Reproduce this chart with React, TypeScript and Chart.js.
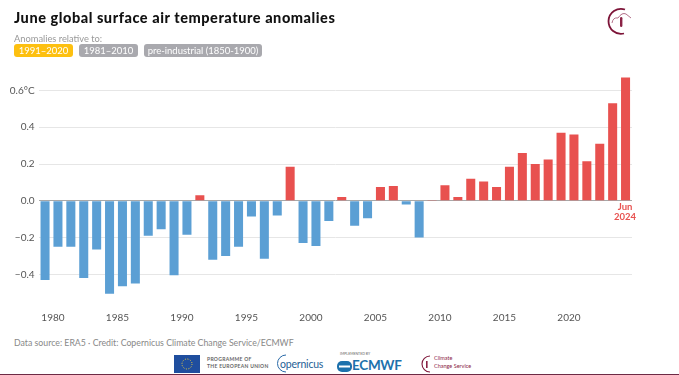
import React, { useEffect, useRef } from "react";
import { Chart, registerables } from "chart.js";

Chart.register(...registerables);

const years = ["1979","1980","1981","1982","1983","1984","1985","1986","1987","1988","1989","1990","1991","1992","1993","1994","1995","1996","1997","1998","1999","2000","2001","2002","2003","2004","2005","2006","2007","2008","2009","2010","2011","2012","2013","2014","2015","2016","2017","2018","2019","2020","2021","2022","2023","2024"];
const anomalies = [-0.43,-0.25,-0.25,-0.42,-0.265,-0.505,-0.465,-0.45,-0.19,-0.155,-0.405,-0.185,0.03,-0.32,-0.3,-0.25,-0.085,-0.315,-0.08,0.185,-0.23,-0.245,-0.11,0.02,-0.135,-0.095,0.075,0.08,-0.02,-0.2,0.005,0.085,0.02,0.12,0.105,0.075,0.185,0.26,0.2,0.225,0.37,0.36,0.215,0.31,0.53,0.67];
const yTicks = [-0.4,-0.2,0,0.2,0.4,0.6];
const baselines = ["1981–2010","pre-industrial (1850-1900)"];
const activeBaseline = "1991–2020";
const FONT = "Lato, 'Noto Sans', sans-serif";

const fmtY = (v: number) => {
  if (Math.abs(v) < 1e-9) return "0.0";
  if (Math.abs(v - 0.6) < 1e-9) return "0.6°C";
  return (v < 0 ? "−" : "") + Math.abs(v).toFixed(1);
};

const lastLabel = {
  id: "lastLabel",
  afterDraw(chart: any) {
    const { ctx, scales } = chart;
    const x = scales.x.getPixelForValue(years.length - 1);
    const y = scales.y.getPixelForValue(0);
    ctx.save();
    ctx.fillStyle = "#e8514f";
    ctx.font = `bold 9.5px ${FONT}`;
    ctx.textAlign = "center";
    ctx.textBaseline = "middle";
    ctx.fillText("Jun", x - 0.5, y + 6.5);
    ctx.fillText("2024", x - 0.5, y + 16.5);
    ctx.restore();
  },
};

const s = (o: React.CSSProperties): React.CSSProperties => ({ position: "absolute", whiteSpace: "nowrap", fontFamily: FONT, ...o });

export default function App() {
  const ref = useRef<HTMLCanvasElement>(null);
  useEffect(() => {
    const chart = new Chart(ref.current!, {
      type: "bar",
      data: {
        labels: years,
        datasets: [{
          data: anomalies,
          backgroundColor: anomalies.map((v) => (v >= 0 ? "#e8514f" : "#5b9fd4")),
          barPercentage: 0.7,
          categoryPercentage: 1,
        }],
      },
      plugins: [lastLabel],
      options: {
        animation: false,
        responsive: false,
        layout: { padding: { left: 0, right: 47, top: 72, bottom: 0 } },
        plugins: { legend: { display: false }, tooltip: { enabled: false } },
        scales: {
          x: {
            position: "bottom",
            grid: { display: false },
            border: { display: false },
            ticks: {
              autoSkip: false,
              maxRotation: 0,
              labelOffset: -5,
              padding: 2,
              color: "#555",
              font: { family: FONT, size: 10 },
              callback: (_v: any, i: number) => (Number(years[i]) % 5 === 0 ? years[i] : ""),
            },
          },
          y: {
            min: -0.55,
            max: 0.7,
            afterFit: (axis: any) => { axis.width = 38.6; },
            grid: {
              color: (c: any) => (Math.abs(c.tick.value) < 1e-9 ? "#a8a8a8" : "#e6e6e6"),
              drawTicks: false,
            },
            border: { display: false },
            afterBuildTicks: (axis: any) => { axis.ticks = yTicks.map((value) => ({ value })); },
            ticks: {
              padding: 4,
              color: "#555",
              font: { family: FONT, size: 10 },
              callback: (v: any) => fmtY(Number(v)),
            },
          },
        },
      },
    } as any);
    return () => chart.destroy();
  }, []);

  return (
    <div style={{ position: "absolute", left: 0, top: 0, width: 679, height: 375, background: "#fff", overflow: "hidden", filter: "blur(0.35px)" }}>
      <canvas ref={ref} width={679} height={326} style={{ position: "absolute", left: 0, top: 0, width: 679, height: 326 }} />
      <div style={s({ left: 14, top: 9, fontSize: 14.5, fontWeight: 900, color: "#111", letterSpacing: 0.55 })}>June global surface air temperature anomalies</div>
      <div style={s({ left: 14, top: 33, fontSize: 9.3, color: "#999" })}>Anomalies relative to:</div>
      <div style={s({ left: 14, top: 44, width: 59, height: 13, lineHeight: "13px", borderRadius: 3, background: "#fdc010", color: "#fff", fontSize: 9.5, textAlign: "center" })}>{activeBaseline}</div>
      <div style={s({ left: 79, top: 44, width: 59, height: 13, lineHeight: "13px", borderRadius: 3, background: "#a9a9ae", color: "#fff", fontSize: 9.5, textAlign: "center" })}>{baselines[0]}</div>
      <div style={s({ left: 144, top: 44, width: 118, height: 13, lineHeight: "13px", borderRadius: 3, background: "#a9a9ae", color: "#fff", fontSize: 9.5, textAlign: "center" })}>{baselines[1]}</div>
      <div style={s({ left: 14, top: 337, fontSize: 8.75, color: "#888" })}>Data source: ERA5 · Credit: Copernicus Climate Change Service/ECMWF</div>

      {/* top-right emblem */}
      <svg style={{ position: "absolute", left: 606, top: 7 }} width="30" height="30" viewBox="0 0 30 30">
        <path d="M19 2.5 A12.5 12.5 0 1 0 18 26.5" fill="none" stroke="#7d1438" strokeWidth="1.8" />
        <path d="M6 16 Q7 10 12 11 Q16 5 20 7 L25 11" fill="none" stroke="#a8607c" strokeWidth="0.9" />
        <rect x="14" y="10" width="2.4" height="10" rx="1.2" fill="#8b2346" />
      </svg>

      {/* footer logos */}
      <svg style={{ position: "absolute", left: 174, top: 355 }} width="26" height="18"><rect width="26" height="18" fill="#1f4e9e" /><circle cx="13" cy="9" r="5" fill="none" stroke="#f5d33a" strokeWidth="1" strokeDasharray="1 1.6" /></svg>
      <div style={s({ left: 207, top: 356, fontSize: 5, lineHeight: "6.5px", fontWeight: 700, color: "#666", letterSpacing: 0.3 })}>PROGRAMME OF<br />THE EUROPEAN UNION</div>
      <svg style={{ position: "absolute", left: 274, top: 354 }} width="14" height="20"><path d="M12 1 A8 8 0 0 0 12 18" fill="none" stroke="#2a6aa8" strokeWidth="1" /></svg>
      <div style={s({ left: 280, top: 358, fontSize: 10.5, color: "#1f5f96", letterSpacing: -0.2 })}>opernicus</div>
      <div style={s({ left: 340, top: 352, fontSize: 3.5, color: "#666" })}>IMPLEMENTED BY</div>
      <svg style={{ position: "absolute", left: 337, top: 361 }} width="15" height="11"><rect width="15" height="11" rx="5" fill="#1d71ac" /><rect x="2" y="4.5" width="11" height="2" fill="#fff" /></svg>
      <div style={s({ left: 352, top: 357, fontSize: 13.5, fontWeight: 700, color: "#1d71ac", letterSpacing: -0.3 })}>ECMWF</div>
      <svg style={{ position: "absolute", left: 416, top: 355 }} width="20" height="18"><path d="M14 1 A8 8 0 1 0 14 17" fill="none" stroke="#7d1438" strokeWidth="1.1" /><rect x="10" y="6" width="1.6" height="7" fill="#8b2346" /></svg>
      <div style={s({ left: 434, top: 355, fontSize: 5.5, lineHeight: "7.5px", color: "#8b2346" })}>Climate<br />Change Service</div>
      <div style={{ position: "absolute", left: 0, top: 374, width: 679, height: 1, background: "#6d2a45" }} />
    </div>
  );
}
